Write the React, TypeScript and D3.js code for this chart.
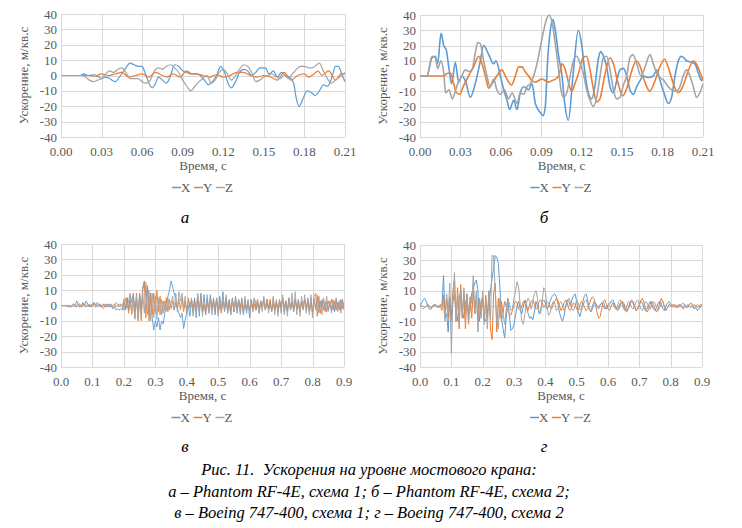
import React from "react";
import * as d3 from "d3";

// ---------- Data ----------
// Panel а (Phantom RF-4E, схема 1): [time s, acceleration m/s²]
const aX: [number, number][] = [[0,0],[0.014,0],[0.017,1],[0.02,0],[0.025,0.5],[0.03,-2],[0.033,-1],[0.036,-2],[0.04,-4],[0.044,0],[0.048,5],[0.051,8],[0.054,7],[0.057,6],[0.06,6],[0.062,2],[0.065,-5],[0.0675,-8],[0.07,-5],[0.072,-1],[0.075,-3],[0.078,-5],[0.081,0],[0.084,7],[0.087,6],[0.09,3],[0.093,2],[0.096,1],[0.1,1],[0.103,0],[0.106,-3],[0.109,-6],[0.112,-4],[0.115,0],[0.118,6],[0.121,2],[0.124,-6],[0.126,-8],[0.129,-4],[0.132,2],[0.135,4],[0.138,3],[0.141,0],[0.144,2],[0.147,5],[0.151,5],[0.154,1],[0.157,3],[0.16,-1],[0.163,2],[0.166,0],[0.169,-1],[0.172,-5],[0.174,-15],[0.176,-20],[0.179,-15],[0.182,-10],[0.185,-11],[0.188,-13],[0.191,-10],[0.194,-6],[0.197,-7],[0.2,-2],[0.203,6],[0.205,6],[0.208,0],[0.21,-4]];
const aY: [number, number][] = [[0,0],[0.02,0],[0.025,-0.5],[0.03,1],[0.035,0],[0.04,1],[0.045,2],[0.05,-1],[0.055,0],[0.06,1],[0.065,-1],[0.07,2],[0.075,0],[0.078,-1],[0.083,1],[0.088,-1],[0.093,3],[0.097,1],[0.1,1],[0.105,0],[0.11,-1],[0.115,0.5],[0.12,-1],[0.125,0],[0.13,2],[0.135,2],[0.14,0],[0.145,-1],[0.15,0],[0.155,-1],[0.16,-3],[0.165,2],[0.17,-3],[0.175,0],[0.18,1],[0.183,-1],[0.187,1],[0.19,3],[0.193,0],[0.198,3],[0.203,-3],[0.207,1],[0.21,1]];
const aZ: [number, number][] = [[0,0],[0.015,0],[0.018,-1],[0.021,-3],[0.024,-4],[0.027,-3],[0.03,-2],[0.033,1],[0.036,3],[0.039,2],[0.042,4],[0.045,5],[0.048,2],[0.051,-2],[0.054,-2],[0.057,-2],[0.06,-4],[0.063,-5],[0.066,-3],[0.069,3],[0.072,5],[0.075,4],[0.078,6],[0.081,7],[0.084,5],[0.087,2],[0.09,-3],[0.093,-7],[0.096,-10],[0.099,-7],[0.102,-4],[0.105,-2],[0.108,0],[0.111,-5],[0.114,-3],[0.117,2],[0.12,4],[0.123,1],[0.126,-3],[0.129,0],[0.132,4],[0.135,7],[0.138,6],[0.141,2],[0.144,-4],[0.147,-3],[0.15,-1],[0.153,0],[0.156,1],[0.159,-1],[0.162,-2],[0.165,0],[0.168,-2],[0.171,1],[0.174,4],[0.177,6],[0.18,6],[0.183,5],[0.186,5],[0.189,7],[0.191,8],[0.194,3],[0.197,-2],[0.2,-5],[0.203,-3],[0.206,-1],[0.21,2]];

// Panel б (Phantom RF-4E, схема 2)
const bX: [number, number][] = [[0,0],[0.0052,0],[0.0089,12],[0.0114,13],[0.0131,8],[0.0156,28],[0.0176,20],[0.0195,17],[0.0215,5],[0.0235,-5],[0.0262,9],[0.0287,-4],[0.0312,0],[0.034,-4],[0.0373,-14],[0.041,-5],[0.0448,10],[0.0472,20],[0.051,14],[0.0546,8],[0.0564,10],[0.0596,0],[0.0621,-9],[0.0646,-16],[0.0665,-22],[0.0695,-16],[0.072,-22],[0.0744,-11],[0.0769,-7],[0.0806,-9],[0.0831,-5],[0.0856,-18],[0.0893,-24],[0.0913,-26],[0.093,-20],[0.0947,10],[0.0967,30],[0.0987,37],[0.1004,30],[0.1029,13],[0.1054,0],[0.107,-15],[0.1101,-29],[0.1135,0],[0.1175,30],[0.1199,21],[0.1224,2],[0.1249,-11],[0.1274,-15],[0.1299,-6],[0.1323,11],[0.1341,16],[0.1361,13],[0.1385,6],[0.141,-7],[0.1435,-11],[0.146,-3],[0.1484,4],[0.1509,5],[0.1534,0],[0.1558,-9],[0.1583,-12],[0.1608,-7],[0.1633,-3],[0.1657,0],[0.1694,-1],[0.1731,0],[0.1756,4],[0.1781,-3],[0.181,-11],[0.1843,-18],[0.1867,-14],[0.1892,0],[0.1917,10],[0.1941,13],[0.1978,10],[0.2015,9],[0.204,8],[0.2065,2],[0.209,-3],[0.21,-1]];
const bY: [number, number][] = [[0,0],[0.018,0],[0.0195,1.5],[0.0225,2],[0.025,-5],[0.027,-11],[0.0295,-12],[0.032,-7],[0.036,0],[0.0398,6],[0.0435,13],[0.046,8],[0.0485,0],[0.051,-8],[0.0535,-5],[0.057,0],[0.0608,4],[0.0633,0],[0.0658,-4],[0.068,-6],[0.0707,0],[0.0732,6],[0.0757,6],[0.078,3],[0.0806,0],[0.0831,-3],[0.0856,-4],[0.088,-3],[0.0905,-2],[0.093,-3],[0.0955,-4],[0.098,-3],[0.1004,-2],[0.1029,0],[0.1054,8],[0.1075,5],[0.1104,-5],[0.1125,-10],[0.115,-5],[0.118,3],[0.121,12],[0.1235,13],[0.126,5],[0.1285,-8],[0.131,-17],[0.1335,-15],[0.137,0],[0.141,12],[0.1435,8],[0.1465,-3],[0.1505,-13],[0.1535,-8],[0.157,3],[0.1605,10],[0.1635,6],[0.1665,-3],[0.1705,-10],[0.174,-4],[0.178,6],[0.1815,11],[0.1845,5],[0.188,-5],[0.1915,-11],[0.1945,-8],[0.1985,2],[0.203,10],[0.205,8],[0.208,2],[0.21,-3]];
const bZ: [number, number][] = [[0,0],[0.0052,0],[0.0089,13],[0.0114,12],[0.0131,5],[0.0156,10],[0.0176,2],[0.019,-11],[0.0215,-9],[0.024,-15],[0.0262,-10],[0.028,-5],[0.031,0],[0.0336,4],[0.036,3],[0.0385,4],[0.041,15],[0.0428,22],[0.0448,21],[0.0472,10],[0.0497,0],[0.052,-7],[0.0547,-2],[0.057,-9],[0.0596,-12],[0.0626,-9],[0.0658,-15],[0.0683,-11],[0.072,-18],[0.0744,-11],[0.0769,-12],[0.0794,-7],[0.0819,-5],[0.0843,0],[0.0868,8],[0.0893,19],[0.0918,30],[0.0942,38],[0.0959,40],[0.098,35],[0.1004,21],[0.1029,4],[0.1046,-9],[0.1064,-14],[0.1089,-11],[0.1114,0],[0.1138,10],[0.1163,13],[0.1188,8],[0.1212,2],[0.1237,-9],[0.1262,-16],[0.1286,-20],[0.1311,-14],[0.1336,0],[0.1361,12],[0.1385,13],[0.141,4],[0.1435,-9],[0.146,-15],[0.1484,-14],[0.1509,-6],[0.1534,0],[0.1558,12],[0.158,14],[0.1608,8],[0.164,0],[0.167,6],[0.1707,14],[0.1731,8],[0.1756,2],[0.1781,-1],[0.181,-3],[0.1834,-6],[0.1867,-9],[0.1904,-10],[0.1929,-7],[0.1953,0],[0.1978,4],[0.2003,0],[0.2028,-7],[0.2052,-14],[0.2077,-11],[0.21,-5]];

// Panels в and г: samples every SAMPLE_DT seconds starting at 0
const SAMPLE_DT = 0.005;
const cX: number[] = [0,0,0,0,-0.5,0,-1,0,1,0,3,1,-1,0,2,0,3,1,-1,0.5,0,2,0,2,1,-1,0,1,-1,0,1,-1,-0.5,-2,-1,-3,-2,-3,-2,-3,
2,-2,5,-3,7,2,8,-4,5,-6,8,-3,12,16,6,13,-5,8,-8,-16,-10,-14,-8,-16,-10,-12,-5,2,6,10,16,12,8,4,-2,-5,-8,-5,-15,-9,
-5,0,-7,4,-3,5,-8,6,-7,8,-4,7,-6,5,-5,7,-3,5,-6,4,-5,6,-3,9,-4,5,-5,4,-6,5,-4,6,-5,3,-4,5,-6,4,-5,3,
-8,4,-2,5,-3,2,-5,3,-1,5,-3,4,-2,3,-4,1,-3,3,-4,4,-3,5,-1,3,-4,5,-3,2,-4,3,-1,4,-4,3,-2,4,-3,5,-4,3,
-5,4,-2,5,-4,3,-1,4,-4,3,-3,1,-3,3,-4,4,-2,3,-3,4,-2];
const cY: number[] = [0,0,0,0,0,-1,0,-0.5,0.5,-1,0,1,0,-1,1,0,-1,0.5,0,-1,1,0,-1,0.5,0,1,-1,0,1,-1,0,1,-0.5,0,1,-1,0,1,0,-1,
4,-3,5,-5,3,-5,6,-8,8,-10,7,-10,10,15,-8,12,-10,6,-6,8,-5,10,-4,6,-6,3,-3,5,-4,4,-2,3,-3,2,-2,4,-3,5,-4,3,
-4,5,-1,4,-5,3,-2,5,-3,6,-4,1,-5,4,-3,5,-2,3,-3,5,-4,1,-5,4,-3,5,-2,3,-3,4,-4,2,-3,4,-1,3,-4,3,-3,2,
-3,3,-4,1,-3,4,-3,3,-1,3,-3,4,-2,4,-4,5,-3,2,-4,3,-1,4,-4,3,-3,4,-2,3,-3,4,-3,1,-4,3,-3,4,-2,3,-4,5,
-5,6,8,-7,6,-5,4,-3,2,-4,3,-1,4,-3,3,-3,2,-3,4,-2,2];
const cZ: number[] = [0,0,0,0,-0.5,0,-1,0,1,0,-1,0.5,1,-1,0,1,-0.5,0,1,-1,0,0.5,1,-1,0,1,-1,-2,0,1,-1,0,1,-2,0,2,1,-1,1,0,
-3,5,-2,3,8,-6,5,-9,6,-9,4,-7,8,-5,15,-6,10,-10,8,-8,6,-9,5,-6,4,-5,3,-4,5,-3,2,6,-3,8,-4,9,3,8,-2,6,
-6,3,-2,5,-7,2,-4,8,-3,6,-7,1,-3,7,-5,4,-6,2,-2,5,-7,3,-4,6,-2,7,-5,1,-6,4,-3,5,-1,4,-6,2,-5,6,-3,4,
-6,2,-3,5,-1,4,-5,2,-4,6,-2,3,-5,1,-3,6,-6,4,-7,3,-5,7,-6,2,-7,5,-3,8,-4,9,-6,4,-7,6,-2,7,-5,3,-6,7,
-8,4,-3,7,-5,2,-6,5,-2,6,-4,3,-5,4,-2,5,-4,2,-5,3,-3];
const dX: number[] = [0,2,4,5,3,0,-2,-2,-1,0,1,0,-1,1,0,20,-8,-5,-17,5,-5,3,8,-5,-10,5,10,-3,-8,2,6,-5,-3,8,12,15,17,10,-10,2,
6,-8,-10,-4,3,10,18,25,33,32,28,12,-8,-15,-21,-8,5,-6,-16,-15,-12,-6,0,3,-2,-5,0,4,1,-5,-8,-7,-9,-4,3,0,-5,-3,3,4,
2,-2,-1,3,6,7,8,6,2,-4,-8,-10,-6,0,4,3,0,4,7,8,3,-4,-7,-3,3,7,8,4,-2,-4,-2,1,2,0,-1,1,2,0,-2,-1,
1,2,3,4,2,-1,-3,-2,1,3,2,-1,-3,-2,1,3,2,-1,-3,-2,1,3,2,-1,-3,-2,1,3,1,-2,-3,-1,2,3,1,-2,-3,0,2,3,
1,0,1,0,-1,0,1,0,-1,1,0,-1,1,2,0,-2,-1,-3,-2,0,1];
const dY: number[] = [0,0,0,-1,0,1,0,-1,0,1,0,0,-1,0,-3,7,-5,5,-8,6,-10,10,17,-10,12,-15,14,-8,9,-15,8,-12,6,-8,10,-5,8,-10,5,-6,
4,-10,7,-8,10,-15,-22,8,15,-17,5,-8,3,-5,3,0,-3,-5,-6,-3,1,3,2,-2,-3,0,3,2,-2,-3,1,3,4,1,-2,-1,3,4,2,-1,
1,3,2,-1,-2,1,3,5,4,0,-3,-1,2,4,2,-2,-3,0,2,1,-2,-3,0,3,2,-1,-3,-2,1,4,6,5,1,-4,-8,-7,-2,3,4,1,
-2,-3,0,2,1,-1,-2,0,2,3,0,-3,-4,-1,2,4,3,0,-3,-2,1,4,5,2,-2,-4,-2,1,3,1,-2,-4,-2,2,5,3,-1,-3,-1,1,
0,1,0,-1,0,1,0,-1,-2,-1,0,1,0,-1,0,1,0,-1,0,1,1];
const dZ: number[] = [0,-1,-2,-1,0,1,0,-1,0,1,0,-1,0,1,0,3,-10,8,-5,15,-31,5,22,-10,8,-12,10,-8,12,-5,8,-10,5,2,20,-5,10,-17,5,-8,
10,-12,5,-15,10,-8,33,33,10,-10,-15,5,-10,-5,-12,-3,5,2,-3,-2,5,10,16,12,0,-10,-12,-5,2,5,3,-2,3,8,10,5,-4,-5,4,12,
10,0,-6,-5,0,3,2,-3,-2,2,3,0,-3,-1,3,5,3,-2,-3,0,4,2,-2,-3,0,3,4,1,-2,-3,0,3,2,-1,-2,0,2,3,0,-2,
-1,1,3,2,-1,-2,0,3,4,1,-2,-3,0,3,2,-1,-2,0,3,4,1,-2,-3,0,3,2,-1,-2,1,3,2,-1,-3,-1,2,3,0,-2,-1,1,
0,-1,0,1,0,-1,0,1,2,0,-1,0,1,2,0,-1,0,1,0,-1,0];

const Y_TICKS = [40, 30, 20, 10, 0, -10, -20, -30, -40];
const X_TICKS_SHORT = [0, 0.03, 0.06, 0.09, 0.12, 0.15, 0.18, 0.21];
const X_TICKS_LONG = [0, 0.1, 0.2, 0.3, 0.4, 0.5, 0.6, 0.7, 0.8, 0.9];
const SERIES_NAMES = ["X", "Y", "Z"];
const COLORS = ["#5B9BD5", "#ED7D31", "#A5A5A5"];
const CAPTION = [
  "Рис. 11.  Ускорения на уровне мостового крана:",
  "а – Phantom RF-4E, схема 1; б – Phantom RF-4E, схема 2;",
  "в – Boeing 747-400, схема 1; г – Boeing 747-400, схема 2",
];

const toPairs = (vals: number[]): [number, number][] => vals.map((v, i) => [i * SAMPLE_DT, v]);

const FONT = '"Liberation Serif", "Times New Roman", "DejaVu Serif", serif';
const TXT = "#595959";

type PanelProps = {
  id: string;
  left: number; top: number; width: number; height: number;
  series: [number, number][][];
  xMax: number; xTicks: number[]; fmt: string;
  smooth: boolean; strokeW: number;
  letter: string; letterX: number; letterY: number;
};

function Panel(p: PanelProps) {
  const x = d3.scaleLinear().domain([0, p.xMax]).range([p.left, p.left + p.width]);
  const y = d3.scaleLinear().domain([-40, 40]).range([p.top + p.height, p.top]);
  const line = d3.line<[number, number]>()
    .x((d) => x(d[0]))
    .y((d) => y(d[1]))
    .curve(p.smooth ? d3.curveMonotoneX : d3.curveLinear);
  const f = d3.format(p.fmt);
  const cx = p.left + p.width / 2;
  const bottom = p.top + p.height;
  const legW = 62;
  const legX0 = cx - legW / 2;
  return (
    <g>
      <defs>
        <clipPath id={"clip" + p.id}>
          <rect x={p.left} y={p.top - 1} width={p.width} height={p.height + 2} />
        </clipPath>
      </defs>
      {Y_TICKS.map((t) => (
        <line key={"gy" + t} x1={p.left} x2={p.left + p.width} y1={Math.round(y(t)) + 0.5} y2={Math.round(y(t)) + 0.5} stroke="#d9d9d9" strokeWidth={1} />
      ))}
      {p.xTicks.map((t) => (
        <line key={"gx" + t} x1={Math.round(x(t)) + 0.5} x2={Math.round(x(t)) + 0.5} y1={p.top} y2={bottom} stroke="#d9d9d9" strokeWidth={1} />
      ))}
      <g clipPath={`url(#clip${p.id})`}>
        {p.series.map((s, i) => (
          <path key={i} d={line(s) || ""} fill="none" stroke={COLORS[i]} strokeWidth={p.strokeW} strokeLinejoin="round" />
        ))}
      </g>
      <g style={{ fontFamily: FONT }} fill={TXT} fontSize={13}>
        {Y_TICKS.map((t) => (
          <text key={"ty" + t} x={p.left - 4} y={y(t) + 4.5} textAnchor="end">{t}</text>
        ))}
        {p.xTicks.map((t) => (
          <text key={"tx" + t} x={x(t)} y={bottom + 19} textAnchor="middle">{f(t)}</text>
        ))}
        <text x={cx} y={bottom + 33} textAnchor="middle">Время, с</text>
        <text transform={`translate(${p.left - 33},${p.top + p.height / 2}) rotate(-90)`} textAnchor="middle">Ускорение, м/кв.с</text>
        {SERIES_NAMES.map((n, i) => (
          <g key={n}>
            <line x1={legX0 + i * 22} x2={legX0 + i * 22 + 9} y1={bottom + 50.5} y2={bottom + 50.5} stroke={COLORS[i]} strokeWidth={1.5} />
            <text x={legX0 + i * 22 + 9} y={bottom + 55}>{n}</text>
          </g>
        ))}
      </g>
      <text x={p.letterX} y={p.letterY} textAnchor="middle" fontSize={17} fontStyle="italic" fill="#000" style={{ fontFamily: FONT }}>{p.letter}</text>
    </g>
  );
}

export default function App() {
  return (
    <svg width={742} height={528} style={{ display: "block", position: "absolute", left: 0, top: 0, background: "#fff" }}>
      <rect width={742} height={528} fill="#fff" />
      <Panel id="a" left={61} top={14} width={284} height={123} series={[aX, aY, aZ]} xMax={0.21} xTicks={X_TICKS_SHORT} fmt=".2f" smooth strokeW={1.2} letter="а" letterX={185} letterY={223} />
      <Panel id="b" left={420} top={15} width={283} height={122} series={[bX, bY, bZ]} xMax={0.21} xTicks={X_TICKS_SHORT} fmt=".2f" smooth strokeW={1.6} letter="б" letterX={544} letterY={223} />
      <Panel id="c" left={61} top={244} width={283} height={123} series={[toPairs(cX), toPairs(cY), toPairs(cZ)]} xMax={0.9} xTicks={X_TICKS_LONG} fmt=".1f" smooth={false} strokeW={0.9} letter="в" letterX={185} letterY={452} />
      <Panel id="d" left={420} top={245} width={282} height={122} series={[toPairs(dX), toPairs(dY), toPairs(dZ)]} xMax={0.9} xTicks={X_TICKS_LONG} fmt=".1f" smooth={false} strokeW={1} letter="г" letterX={544} letterY={452} />
      <g style={{ fontFamily: FONT }} fontSize={16.5} fontStyle="italic" fill="#000">
        {CAPTION.map((c, i) => (
          <text key={i} x={369} y={475 + i * 21.5} textAnchor="middle" style={{ whiteSpace: "pre" }}>{c}</text>
        ))}
      </g>
    </svg>
  );
}
